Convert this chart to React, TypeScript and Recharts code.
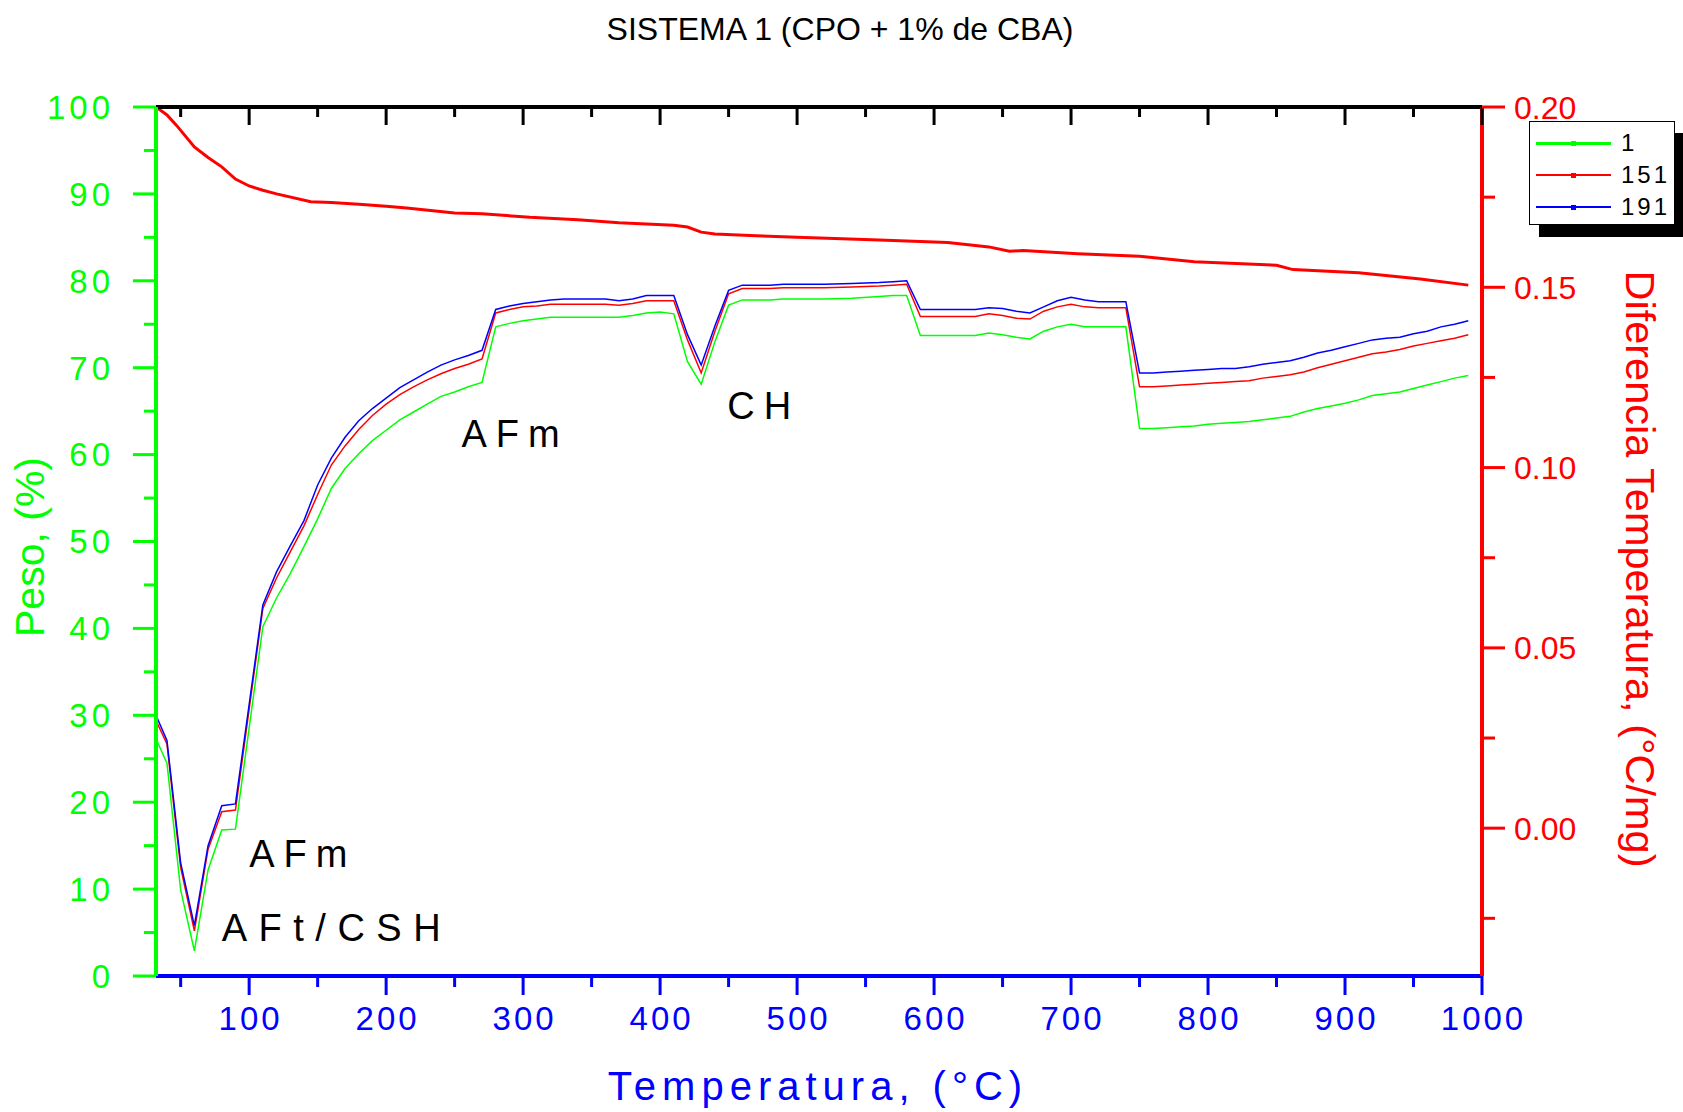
import React from 'react';
import { LineChart, Line, XAxis, YAxis, ReferenceDot } from 'recharts';

// temperatures (°C) where the three weight curves have a vertex
const temps = [
  32, 40, 50, 60, 70, 80, 90, 110, 120, 130,
  140, 150, 160, 170, 180, 190, 200, 210, 220, 230,
  240, 250, 260, 270, 280, 290, 300, 310, 320, 330,
  340, 350, 360, 370, 380, 390, 400, 410, 420, 430,
  440, 450, 460, 470, 480, 490, 500, 520, 540, 560,
  570, 580, 590, 600, 610, 620, 630, 640, 650, 660,
  670, 680, 690, 700, 710, 720, 730, 740, 750, 760,
  770, 780, 790, 800, 810, 820, 830, 840, 850, 860,
  870, 880, 890, 900, 910, 920, 930, 940, 950, 960,
  970, 980, 990,
];

const peso1 = [
  27.3, 24.5, 9.9, 2.9, 12.2, 16.8, 16.9, 40.2, 43.5, 46.3,
  49.4, 52.6, 56.1, 58.4, 60.1, 61.6, 62.8, 64.0, 64.9, 65.8,
  66.7, 67.2, 67.8, 68.3, 74.7, 75.1, 75.4, 75.6, 75.8, 75.8,
  75.8, 75.8, 75.8, 75.8, 76.0, 76.3, 76.4, 76.2, 70.7, 68.1,
  73.0, 77.2, 77.8, 77.8, 77.8, 77.9, 77.9, 77.9, 78.0, 78.2,
  78.3, 78.3, 73.7, 73.7, 73.7, 73.7, 73.7, 74.0, 73.8, 73.5,
  73.3, 74.2, 74.7, 75.0, 74.7, 74.7, 74.7, 74.7, 63.0, 63.0,
  63.1, 63.2, 63.3, 63.5, 63.6, 63.7, 63.8, 64.0, 64.2, 64.4,
  64.9, 65.3, 65.6, 65.9, 66.3, 66.8, 67.0, 67.2, 67.6, 68.0,
  68.4, 68.8, 69.1,
];

const peso151 = [
  29.4, 26.7, 12.5, 5.2, 14.6, 18.9, 19.1, 42.3, 45.8, 48.8,
  51.8, 55.4, 58.8, 61.0, 62.9, 64.5, 65.8, 66.9, 67.8, 68.6,
  69.3, 69.9, 70.4, 71.0, 76.3, 76.7, 77.0, 77.1, 77.3, 77.3,
  77.3, 77.3, 77.3, 77.2, 77.4, 77.7, 77.7, 77.7, 73.2, 69.4,
  74.2, 78.5, 79.1, 79.1, 79.1, 79.2, 79.2, 79.2, 79.3, 79.4,
  79.5, 79.6, 75.9, 75.9, 75.9, 75.9, 75.9, 76.2, 76.0, 75.7,
  75.6, 76.5, 77.0, 77.3, 77.0, 76.9, 76.9, 76.9, 67.8, 67.8,
  67.9, 68.0, 68.1, 68.2, 68.3, 68.4, 68.5, 68.8, 69.0, 69.2,
  69.5, 70.0, 70.4, 70.8, 71.2, 71.6, 71.8, 72.1, 72.5, 72.8,
  73.1, 73.4, 73.8,
];

const peso191 = [
  30.0, 27.1, 13.0, 5.8, 15.0, 19.6, 19.8, 42.7, 46.5, 49.5,
  52.4, 56.5, 59.6, 62.0, 63.9, 65.3, 66.5, 67.7, 68.6, 69.5,
  70.3, 70.9, 71.4, 72.0, 76.7, 77.1, 77.4, 77.6, 77.8, 77.9,
  77.9, 77.9, 77.9, 77.7, 77.9, 78.3, 78.3, 78.3, 73.8, 70.3,
  74.8, 78.9, 79.5, 79.5, 79.5, 79.6, 79.6, 79.6, 79.7, 79.8,
  79.9, 80.0, 76.7, 76.7, 76.7, 76.7, 76.7, 76.9, 76.8, 76.5,
  76.3, 77.0, 77.7, 78.1, 77.8, 77.6, 77.6, 77.6, 69.4, 69.4,
  69.5, 69.6, 69.7, 69.8, 69.9, 69.9, 70.1, 70.4, 70.6, 70.8,
  71.2, 71.7, 72.0, 72.4, 72.8, 73.2, 73.4, 73.5, 73.9, 74.2,
  74.7, 75.0, 75.4,
];

// temperature difference curve (right axis)
const dtaTemps = [
  32, 40, 47, 60, 70, 80, 90, 100, 110, 120,
  145, 160, 180, 200, 215, 250, 270, 305, 340, 370,
  410, 420, 430, 440, 470, 500, 560, 610, 640, 655,
  665, 705, 750, 790, 850, 862, 910, 955, 990,
];
const dtaValues = [
  0.2, 0.1978, 0.1949, 0.1889, 0.186, 0.1834, 0.18, 0.1781, 0.1769, 0.1759,
  0.1737, 0.1735, 0.173, 0.1725, 0.172, 0.1706, 0.1704, 0.1694, 0.1687, 0.1679,
  0.1672, 0.1667, 0.1653, 0.1648, 0.1643, 0.1639, 0.1631, 0.1624, 0.1612, 0.16,
  0.1602, 0.1593, 0.1586, 0.1571, 0.1561, 0.1549, 0.154, 0.1523, 0.1506,
];

const seriesNames = ['1', '151', '191'];

const tempTicks = [50, 100, 150, 200, 250, 300, 350, 400, 450, 500, 550, 600, 650, 700, 750, 800, 850, 900, 950, 1000];
const pesoTicks = [0, 5, 10, 15, 20, 25, 30, 35, 40, 45, 50, 55, 60, 65, 70, 75, 80, 85, 90, 95, 100];
const dtaTicks = [-0.025, 0, 0.025, 0.05, 0.075, 0.1, 0.125, 0.15, 0.175, 0.2];

const notes = [
  { text: 'AFm', temp: 255, peso: 60.9 },
  { text: 'CH', temp: 449, peso: 64.1 },
  { text: 'AFm', temp: 100, peso: 12.6 },
  { text: 'AFt/CSH', temp: 80, peso: 4.0 },
];
const noteSpacing = [9, 9, 9, 11.5];

const GREEN = '#00ff00';
const RED = '#ff0000';
const BLUE = '#0000ff';
const FONT = '"Liberation Sans", Arial, sans-serif';
const colors = [GREEN, RED, BLUE];

const toRows = (xs: number[], ys: number[]) => xs.map((t, i) => ({ temp: t, value: ys[i] }));

const BottomTick = ({ x, y, payload }: any) => {
  const major = payload.value % 100 === 0;
  return (
    <g>
      <line x1={x} x2={x} y1={y} y2={y + (major ? 19 : 11)} stroke={BLUE} strokeWidth={3} />
      {major && (
        <text x={x + 1.5} y={y + 54} textAnchor="middle" fill={BLUE} fontSize={33} letterSpacing={3} fontFamily={FONT}>
          {payload.value}
        </text>
      )}
    </g>
  );
};

const TopTick = ({ x, y, payload }: any) => {
  const major = payload.value % 100 === 0;
  return <line x1={x} x2={x} y1={y} y2={y + (major ? 18 : 10)} stroke="#000" strokeWidth={3} />;
};

const LeftTick = ({ x, y, payload }: any) => {
  const major = payload.value % 10 === 0;
  return (
    <g>
      <line x1={x - (major ? 23 : 12)} x2={x} y1={y} y2={y} stroke={GREEN} strokeWidth={3} />
      {major && (
        <text x={x - 46 + 4} y={y} dy="0.36em" textAnchor="end" fill={GREEN} fontSize={33} letterSpacing={4} fontFamily={FONT}>
          {payload.value}
        </text>
      )}
    </g>
  );
};

const RightTick = ({ x, y, payload }: any) => {
  const q = payload.value / 0.05;
  const major = Math.abs(q - Math.round(q)) < 1e-6;
  return (
    <g>
      <line x1={x} x2={x + (major ? 23 : 13)} y1={y} y2={y} stroke={RED} strokeWidth={3} />
      {major && (
        <text x={x + 32} y={y} dy="0.36em" textAnchor="start" fill={RED} fontSize={32} fontFamily={FONT}>
          {payload.value.toFixed(2)}
        </text>
      )}
    </g>
  );
};

const centered = (left: number, top: number, rotate = 0): React.CSSProperties => ({
  position: 'absolute',
  left,
  top,
  transform: `translate(-50%, -50%) rotate(${rotate}deg)`,
  whiteSpace: 'nowrap',
  lineHeight: 1,
  fontFamily: FONT,
});

export default function App() {
  return (
    <div style={{ position: 'absolute', left: 0, top: 0, width: 1683, height: 1112, background: '#fff', fontFamily: FONT }}>
      <LineChart width={1683} height={1112} margin={{ top: 87, right: 101, bottom: 76, left: 66 }}>
        <XAxis
          xAxisId="bottom"
          dataKey="temp"
          type="number"
          domain={[32, 1000]}
          allowDataOverflow
          ticks={tempTicks}
          interval={0}
          height={60}
          tickSize={0}
          tickMargin={0}
          tickLine={false}
          tick={BottomTick}
          axisLine={{ stroke: BLUE, strokeWidth: 4 }}
        />
        <XAxis
          xAxisId="top"
          orientation="top"
          dataKey="temp"
          type="number"
          domain={[32, 1000]}
          allowDataOverflow
          ticks={tempTicks}
          interval={0}
          height={20}
          tickSize={0}
          tickMargin={0}
          tickLine={false}
          tick={TopTick}
          axisLine={{ stroke: '#000', strokeWidth: 4 }}
        />
        <YAxis
          yAxisId="left"
          type="number"
          domain={[0, 100]}
          allowDataOverflow
          ticks={pesoTicks}
          interval={0}
          width={90}
          tickSize={0}
          tickMargin={0}
          tickLine={false}
          tick={LeftTick}
          axisLine={{ stroke: GREEN, strokeWidth: 4 }}
        />
        <YAxis
          yAxisId="right"
          orientation="right"
          type="number"
          domain={[-0.041, 0.2]}
          allowDataOverflow
          ticks={dtaTicks}
          interval={0}
          width={100}
          tickSize={0}
          tickMargin={0}
          tickLine={false}
          tick={RightTick}
          axisLine={{ stroke: RED, strokeWidth: 4 }}
        />

        <Line
          xAxisId="top"
          yAxisId="right"
          data={toRows(dtaTemps, dtaValues)}
          dataKey="value"
          type="linear"
          stroke={RED}
          strokeWidth={3}
          dot={false}
          isAnimationActive={false}
        />
        {[peso1, peso151, peso191].map((vals, i) => (
          <Line
            key={seriesNames[i]}
            name={seriesNames[i]}
            xAxisId="bottom"
            yAxisId="left"
            data={toRows(temps, vals)}
            dataKey="value"
            type="linear"
            stroke={colors[i]}
            strokeWidth={1.5}
            dot={false}
            isAnimationActive={false}
          />
        ))}

        {notes.map((n, i) => (
          <ReferenceDot
            key={i}
            xAxisId="bottom"
            yAxisId="left"
            x={n.temp}
            y={n.peso}
            r={0}
            fill="none"
            stroke="none"
            ifOverflow="visible"
            label={(p: any) => (
              <text x={p.viewBox.x} y={p.viewBox.y} fill="#000" fontSize={38} letterSpacing={noteSpacing[i]} fontFamily={FONT}>
                {n.text}
              </text>
            )}
          />
        ))}
      </LineChart>

      <div style={{ ...centered(840, 29), fontSize: 32, color: '#000' }}>SISTEMA 1 (CPO + 1% de CBA)</div>
      <div style={{ ...centered(30, 547, -90), fontSize: 41, color: GREEN }}>Peso, (%)</div>
      <div style={{ ...centered(1640, 569, 90), fontSize: 41.5, color: RED }}>Diferencia Temperatura, (°C/mg)</div>
      <div style={{ ...centered(818, 1086), fontSize: 40, color: BLUE, letterSpacing: 6 }}>Temperatura, (°C)</div>

      {/* legend box with offset shadow */}
      <div
        style={{
          position: 'absolute',
          left: 1529,
          top: 121,
          width: 146,
          height: 104,
          border: '1.5px solid #000',
          background: '#fff',
          boxShadow: '10px 12px 0 0 #000',
          paddingTop: 5,
          boxSizing: 'border-box',
        }}
      >
        {seriesNames.map((name, i) => (
          <div key={name} style={{ position: 'relative', height: 32 }}>
            <div
              style={{
                position: 'absolute',
                left: 6,
                width: 75,
                top: 16 - (i === 0 ? 1.5 : 0.75),
                height: i === 0 ? 3 : 1.5,
                background: colors[i],
              }}
            />
            <div style={{ position: 'absolute', left: 41, top: 13.5, width: 5, height: 5, background: colors[i] }} />
            <div
              style={{
                position: 'absolute',
                left: 91,
                top: 16,
                transform: 'translateY(-50%)',
                fontSize: 24,
                letterSpacing: 3,
                lineHeight: 1,
                color: '#000',
              }}
            >
              {name}
            </div>
          </div>
        ))}
      </div>
    </div>
  );
}
